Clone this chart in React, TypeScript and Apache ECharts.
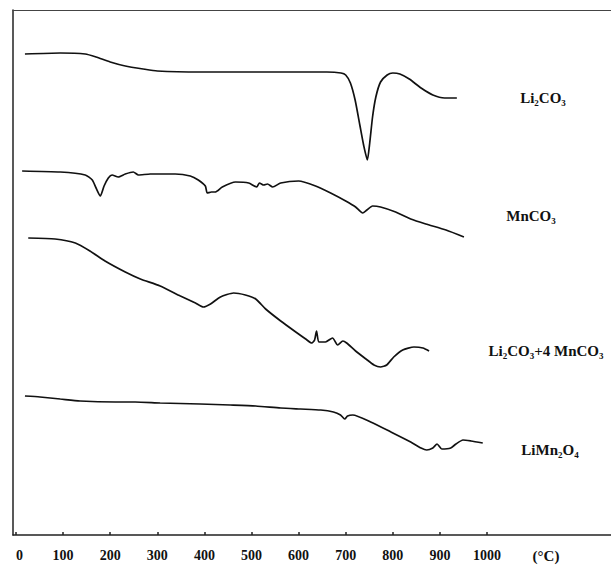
import React, { useEffect, useRef } from "react";
import * as echarts from "echarts";

// Temperature (°C) tick labels
const tempTicks = [0, 100, 200, 300, 400, 500, 600, 700, 800, 900, 1000];

// Curve names
const curveNames = ["Li₂CO₃", "MnCO₃", "Li₂CO₃+4 MnCO₃", "LiMn₂O₄"];

// DTA signal (arbitrary units, upward positive) vs temperature (°C)
const li2co3: [number, number][] = [
  [19, 481], [94, 482], [147, 481], [170, 478], [200, 473], [232, 469], [270, 466],
  [300, 464], [391, 463], [500, 463], [604, 463], [660, 463], [690, 462], [700, 460],
  [710, 452], [720, 435], [730, 410], [738, 390], [746, 375], [751, 392], [757, 418],
  [764, 438], [774, 453], [788, 460], [800, 462], [815, 461], [835, 456], [860, 447],
  [885, 440], [910, 437], [936, 437],
];

const mnco3: [number, number][] = [
  [13, 364], [94, 363], [147, 360], [162, 355], [170, 347], [179, 339], [187, 349],
  [196, 357], [204, 360], [217, 358], [232, 361], [249, 363], [260, 360], [285, 361],
  [338, 361], [370, 359], [387, 355], [402, 349], [406, 342], [415, 343], [423, 343],
  [438, 348], [466, 353], [494, 352], [511, 348], [517, 352], [526, 350], [534, 351],
  [545, 348], [562, 352], [600, 354], [636, 349], [668, 342], [700, 334], [721, 328],
  [736, 322], [745, 325], [757, 329], [774, 328], [806, 323], [838, 316], [870, 311],
  [913, 305], [951, 298],
];

const mixture: [number, number][] = [
  [26, 297], [83, 296], [126, 292], [157, 284], [189, 274], [232, 263], [264, 256],
  [306, 249], [349, 239], [381, 232], [398, 228], [413, 231], [434, 238], [462, 242],
  [487, 240], [509, 236], [530, 226], [562, 214], [594, 203], [615, 196], [628, 192],
  [634, 195], [638, 204], [643, 193], [657, 193], [672, 197], [683, 190], [694, 194],
  [702, 192], [721, 184], [743, 176], [760, 170], [774, 168], [787, 170], [802, 178],
  [821, 185], [845, 188], [864, 187], [877, 184],
];

const limn2o4: [number, number][] = [
  [19, 139], [51, 138], [94, 136], [136, 134], [211, 133], [253, 133], [306, 132],
  [391, 131], [455, 130], [509, 129], [562, 127], [604, 126], [647, 125], [674, 123],
  [689, 120], [698, 116], [704, 119], [715, 120], [753, 113], [796, 103], [838, 93],
  [860, 87], [872, 85], [885, 87], [894, 91], [904, 86], [923, 87], [934, 91],
  [949, 95], [966, 94], [991, 92],
];

const curves = [li2co3, mnco3, mixture, limn2o4];

const FONT = "'Liberation Serif', 'Times New Roman', serif";

export default function App() {
  const ref = useRef<HTMLDivElement>(null);

  useEffect(() => {
    if (!ref.current) return;
    const chart = echarts.init(ref.current, undefined, { renderer: "svg" });

    const labelPos = [
      [543, 98],
      [531, 216],
      [546, 351],
      [550, 450],
    ];

    const frameLine = { show: true, lineStyle: { color: "#222", width: 1.5 } };

    chart.setOption({
      animation: false,
      backgroundColor: "#fff",
      grid: [
        { left: 16, right: 124, top: 10, bottom: 31 },
        { left: 13, right: 0, top: 10, bottom: 31 },
      ],
      xAxis: [
        {
          type: "value",
          gridIndex: 0,
          min: tempTicks[0],
          max: tempTicks[tempTicks.length - 1],
          interval: 100,
          axisLine: { show: false },
          axisTick: { show: true, inside: true, length: 3, lineStyle: { color: "#222", width: 1.5 } },
          splitLine: { show: false },
          axisLabel: {
            show: true,
            margin: 13,
            color: "#111",
            fontFamily: FONT,
            fontWeight: "bold",
            fontSize: 14,
            alignMinLabel: "left",
            formatter: (v: number) => String(v),
          },
        },
        {
          type: "value",
          gridIndex: 1,
          position: "bottom",
          axisLine: frameLine,
          axisTick: { show: false },
          axisLabel: { show: false },
          splitLine: { show: false },
        },
        {
          type: "value",
          gridIndex: 1,
          position: "top",
          axisLine: { show: true, lineStyle: { color: "#444", width: 1.2 } },
          axisTick: { show: false },
          axisLabel: { show: false },
          splitLine: { show: false },
        },
      ],
      yAxis: [
        {
          type: "value",
          gridIndex: 0,
          min: 0,
          max: 525,
          show: false,
        },
        {
          type: "value",
          gridIndex: 1,
          position: "left",
          axisLine: frameLine,
          axisTick: { show: false },
          axisLabel: { show: false },
          splitLine: { show: false },
        },
      ],
      series: curves.map((d, i) => ({
        name: curveNames[i],
        type: "line",
        xAxisIndex: 0,
        yAxisIndex: 0,
        data: d,
        showSymbol: false,
        smooth: 0.2,
        lineStyle: { color: "#111", width: 1.7 },
      })),
      graphic: [
        ...curveNames.map((n, i) => ({
          type: "text",
          x: labelPos[i][0],
          y: labelPos[i][1],
          style: {
            text: n,
            fill: "#111",
            font: `bold 15px ${FONT}`,
            textAlign: "center",
            textVerticalAlign: "middle",
            verticalAlign: "middle",
          },
        })),
        {
          type: "text",
          x: 546,
          y: 556,
          style: {
            text: "(°C)",
            fill: "#111",
            font: `bold 15px ${FONT}`,
            textAlign: "center",
            textVerticalAlign: "middle",
            verticalAlign: "middle",
          },
        },
      ],
    });

    return () => chart.dispose();
  }, []);

  return (
    <div
      ref={ref}
      style={{ position: "fixed", left: 0, top: 0, width: 611, height: 566, background: "#fff" }}
    />
  );
}
